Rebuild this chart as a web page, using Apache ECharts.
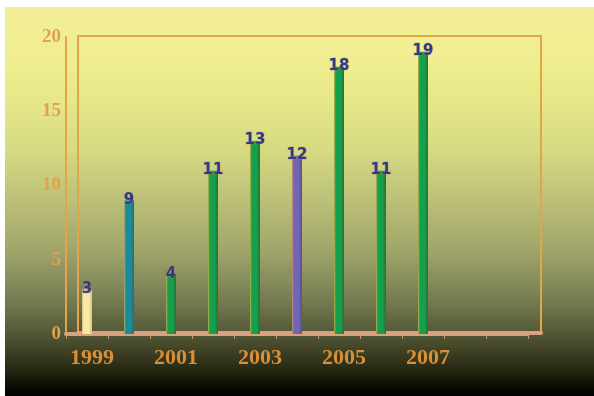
<!DOCTYPE html>
<html>
<head>
<meta charset="utf-8">
<script src="https://cdn.jsdelivr.net/npm/echarts@6/dist/echarts.min.js"></script>
<style>
  html, body { margin: 0; padding: 0; background: #ffffff; }
  #chart { position: absolute; left: 5px; top: 7px; width: 589px; height: 389px; }
</style>
</head>
<body>
<div id="chart"></div>
<script>
// ---- data ----
const years = ['1999', '2000', '2001', '2002', '2003', '2004', '2005', '2006', '2007', '2008', '2009'];
const values = [3, 9, 4, 11, 13, 12, 18, 11, 19, null, null];
const yTicks = [0, 5, 10, 15, 20];

// ---- styling ----
function barGrad(edge, core, dark) {
  return new echarts.graphic.LinearGradient(0, 0, 1, 0, [
    { offset: 0, color: edge },
    { offset: 0.18, color: core },
    { offset: 0.7, color: core },
    { offset: 1, color: dark }
  ]);
}
const styleFor = {
  '1999': barGrad('#e8b860', '#f6eaa8', '#e0c070'),
  '2000': barGrad('#c8a850', '#1a8c9c', '#2a6a70'),
  '2004': barGrad('#c89860', '#7464b4', '#5a4c90'),
  'default': barGrad('#c8b048', '#14a04c', '#2e6a30')
};

const seriesData = years.map((y, i) => ({
  value: values[i],
  itemStyle: { color: styleFor[y] || styleFor['default'] }
}));

const orange = '#e6a44a';
const chart = echarts.init(document.getElementById('chart'));
chart.setOption({
  animation: false,
  backgroundColor: new echarts.graphic.LinearGradient(0, 0, 0, 1, [
    { offset: 0, color: '#f2ee96' },
    { offset: 0.136, color: '#f0ee90' },
    { offset: 0.239, color: '#e6e888' },
    { offset: 0.368, color: '#d6da82' },
    { offset: 0.496, color: '#bcc078' },
    { offset: 0.625, color: '#a0a66a' },
    { offset: 0.753, color: '#767c52' },
    { offset: 0.856, color: '#4c5030' },
    { offset: 0.933, color: '#262812' },
    { offset: 0.972, color: '#0e0e04' },
    { offset: 1, color: '#000000' }
  ]),
  grid: [
    { left: 61, right: 66, top: 30, bottom: 62 },
    { left: 73, right: 53, top: 29, bottom: 63, show: true, borderColor: orange, borderWidth: 2, backgroundColor: 'transparent' }
  ],
  xAxis: [
    {
      type: 'category', gridIndex: 0, data: years,
      axisLine: { show: true, lineStyle: { color: '#d9a27e', width: 4 } },
      axisTick: { show: true, interval: 0, length: 5, lineStyle: { color: '#c89878', width: 1 } },
      axisLabel: {
        interval: (i) => i % 2 === 0 && values[i] != null,
        color: '#d98f38', fontSize: 22, fontWeight: 'bold',
        fontFamily: '"Liberation Serif", "DejaVu Serif", serif',
        margin: 13, padding: [0, 0, 0, 10]
      }
    },
    {
      type: 'category', gridIndex: 1, data: years, show: true,
      axisLine: { show: true, lineStyle: { color: '#d9a27e', width: 4 } },
      axisTick: { show: false }, axisLabel: { show: false }
    }
  ],
  yAxis: [
    {
      type: 'value', gridIndex: 0, min: 0, max: 20, interval: 5,
      axisLine: { show: true, lineStyle: { color: orange, width: 2 } },
      axisTick: { show: false },
      splitLine: { show: false },
      axisLabel: {
        color: '#e2a050', fontSize: 19, margin: 5, fontWeight: 'bold',
        fontFamily: '"Liberation Serif", "DejaVu Serif", serif',
        padding: [6, 0, 0, 0],
        formatter: v => (yTicks.indexOf(v) >= 0 ? String(v) : '')
      }
    },
    {
      type: 'value', gridIndex: 1, min: 0, max: 20, interval: 5, show: false,
      splitLine: { show: false }
    }
  ],
  series: [
    {
      type: 'bar', xAxisIndex: 0, yAxisIndex: 0,
      data: seriesData,
      barWidth: 10,
      label: {
        show: true, position: 'top', distance: -7,
        color: '#2e3c88', fontSize: 15, fontWeight: 'bold',
        fontFamily: '"DejaVu Sans", sans-serif',
        textBorderColor: 'rgba(200,120,100,0.5)', textBorderWidth: 1
      }
    }
  ]
});
</script>
</body>
</html>
